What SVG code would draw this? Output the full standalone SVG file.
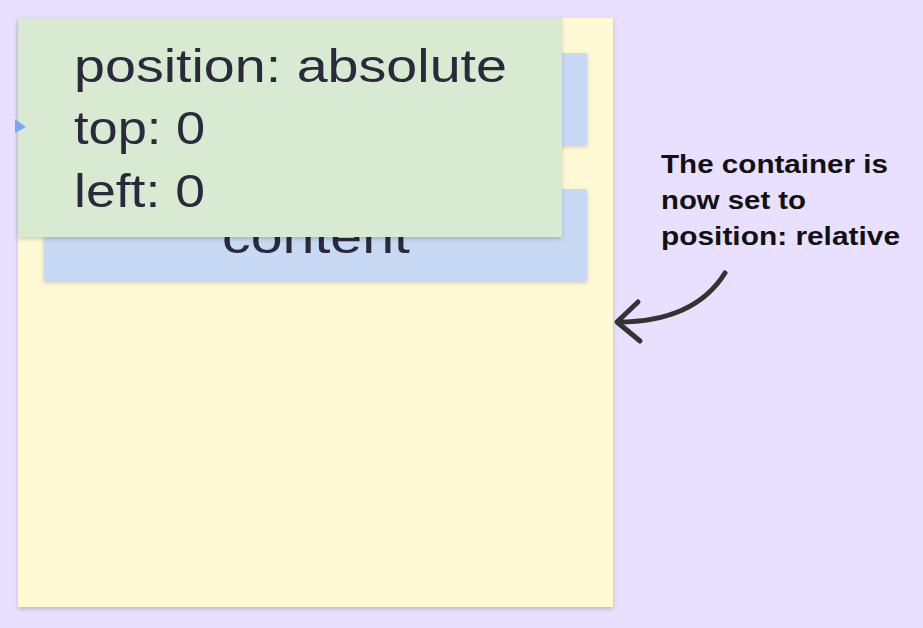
<svg xmlns="http://www.w3.org/2000/svg" width="923" height="628" viewBox="0 0 923 628">
  <defs>
    <filter id="sh" x="-5%" y="-5%" width="110%" height="115%">
      <feDropShadow dx="0" dy="2" stdDeviation="2" flood-color="#000" flood-opacity="0.18"/>
    </filter>
    <style>
      .box { filter: url(#sh); }
      .big { font-family: "Liberation Sans", Arial, sans-serif; font-size: 46px; fill: #2b2a3d; }
      .note { font-family: "Liberation Sans", Arial, sans-serif; font-size: 25px; font-weight: bold; fill: #111; }
      .arrow { fill: none; stroke: #333; stroke-width: 5; stroke-linecap: round; stroke-linejoin: round; }
    </style>
  </defs>
  <rect width="923" height="628" fill="#e8e0fe"/>
  <g id="container">
    <rect class="box" x="18" y="18" width="595" height="589" fill="#fff9d4"/>
  </g>
  <g id="item1">
    <rect class="box" x="44" y="53" width="543" height="92" fill="#c8d9f5"/>
  </g>
  <g id="item2">
    <rect class="box" x="44" y="189" width="543" height="92" fill="#c8d9f5"/>
    <text class="big" x="316" y="253" text-anchor="middle" textLength="188" lengthAdjust="spacingAndGlyphs">content</text>
  </g>
  <g id="absolute-box">
    <rect class="box" x="18" y="18" width="544" height="219" fill="#d9ead3"/>
    <text class="big" x="74" y="82" textLength="433" lengthAdjust="spacingAndGlyphs">position: absolute</text>
    <text class="big" x="74" y="144" textLength="131" lengthAdjust="spacingAndGlyphs">top: 0</text>
    <text class="big" x="74" y="207" textLength="131" lengthAdjust="spacingAndGlyphs">left: 0</text>
    <polygon points="15,119 26,127 15,133" fill="#7ba7f7"/>
  </g>
  <g id="note">
    <text class="note" x="661" y="173" textLength="227" lengthAdjust="spacingAndGlyphs">The container is</text>
    <text class="note" x="661" y="209" textLength="145" lengthAdjust="spacingAndGlyphs">now set to</text>
    <text class="note" x="661" y="245" textLength="239" lengthAdjust="spacingAndGlyphs">position: relative</text>
  </g>
  <g id="connectors">
    <path class="arrow" d="M725,273 C705,305 670,322 618,322"/>
    <path class="arrow" d="M638,302 L617,322 L640,341"/>
  </g>
</svg>
